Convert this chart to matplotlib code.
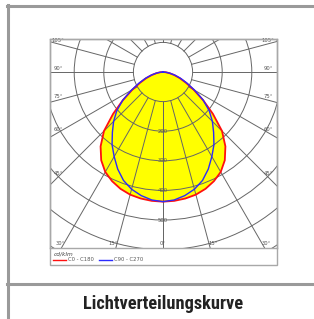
import numpy as np
import matplotlib
matplotlib.use("Agg")
import matplotlib.pyplot as plt
from matplotlib.patches import Rectangle, Circle
from matplotlib import font_manager as fm

# ---- data (cd/klm vs. gamma angle in degrees) ----
gamma = [0, 5, 10, 15, 20, 25, 30, 35, 40, 45, 50, 55, 60, 65, 70, 75, 80, 85, 90]
c0_c180 = [438, 437, 434, 429, 420, 407, 390, 364, 328, 282, 220, 165, 120, 85, 60, 39, 22, 9, 0]
c90_c270 = [438, 434, 424, 410, 390, 362, 330, 300, 266, 236, 204, 166, 124, 90, 64, 42, 24, 10, 0]
ring_values = [100, 200, 300, 400, 500, 600, 700]
ring_labels = ["200", "300", "400", "500"]
angle_side = [45, 60, 75, 90, 105]
angle_bottom = [0, 15, 30]
series_names = ["C0 - C180", "C90 - C270"]
unit_label = "cd/klm"
title = "Lichtverteilungskurve"

W, H = 314, 319
fig = plt.figure(figsize=(W / 100, H / 100), dpi=100)
fig.patch.set_facecolor("white")


def fx(x):
    return x / W


def fy(y):
    return 1 - y / H


# outer frame
frame_col = "#9a9a9a"
fig.add_artist(plt.Line2D([fx(8), fx(8)], [fy(5), fy(319)], color=frame_col, lw=2.2))
fig.add_artist(plt.Line2D([fx(7), fx(314)], [fy(6), fy(6)], color=frame_col, lw=2.2))
fig.add_artist(plt.Line2D([fx(7), fx(314)], [fy(284), fy(284)], color=frame_col, lw=2.2))

# chart box
bx0, bx1, by0, by1, bleg = 50, 277, 39, 265, 248
fig.add_artist(Rectangle((fx(bx0), fy(by1)), fx(bx1) - fx(bx0), fy(by0) - fy(by1),
                         fill=False, edgecolor="#a8a8a8", lw=1.0))

# polar diagram axes (cartesian with matching scale)
ox, oy = 163, 72
scale = 0.296  # px per cd/klm
ax = fig.add_axes([fx(bx0), fy(bleg), fx(bx1) - fx(bx0), fy(by0) - fy(bleg)])
ax.set_xlim(-(ox - bx0) / scale, (bx1 - ox) / scale)
ax.set_ylim(-(bleg - oy) / scale, (oy - by0) / scale)
ax.set_xticks([])
ax.set_yticks([])
for s in ax.spines.values():
    s.set_color("#a8a8a8")
    s.set_linewidth(1.0)


def to_xy(g, r, side=1):
    g = np.radians(np.asarray(g, float))
    r = np.asarray(r, float)
    return side * r * np.sin(g), -r * np.cos(g)


def full_curve(vals):
    xr, yr = to_xy(gamma, vals, 1)
    xl, yl = to_xy(gamma, vals, -1)
    x = np.concatenate([xl[::-1], xr[1:]])
    y = np.concatenate([yl[::-1], yr[1:]])
    return x, y


xr_, yr_ = full_curve(c0_c180)
xb_, yb_ = full_curve(c90_c270)
ax.fill(xr_, yr_, color="#ffff00", zorder=1, lw=0)
ax.fill(xb_, yb_, color="#ffff00", zorder=1, lw=0)

grid_col = "#666666"
for r in ring_values:
    ax.add_patch(Circle((0, 0), r, fill=False, edgecolor=grid_col, lw=0.7, zorder=2))
for a in range(0, 181, 15):
    for side in (1, -1):
        x, y = to_xy([a, a], [100, 900], side)
        ax.plot(x, y, color=grid_col, lw=0.7, zorder=2)

ax.plot(xr_, yr_, color="#ff1010", lw=1.3, zorder=4)
ax.plot(xb_, yb_, color="#2a2aff", lw=1.0, zorder=5)

# ring labels
for lab in ring_labels:
    ax.text(0, -float(lab), lab, fontsize=3.8, color="#555555", ha="center", va="center", zorder=6)

# angle labels
inset_x = 8 / scale
for a in angle_side:
    g = np.radians(a)
    xx = (ox - bx0) / scale - inset_x
    yy = -xx * np.cos(g) / np.sin(g)
    for side in (1, -1):
        ax.text(side * xx, yy + 12, f"{a}°", fontsize=3.8, color="#555555",
                ha="center", va="center", zorder=6)
yb = (bleg - oy) / scale - 5 / scale
for a in angle_bottom:
    g = np.radians(a)
    xx = yb * np.tan(g)
    for side in ((1, -1) if a else (1,)):
        off = 15 if a else 0
        ax.text(side * (xx + off), -yb, f"{a}°", fontsize=3.8, color="#555555",
                ha="center", va="center", zorder=6)

# legend area
fig.text(fx(54), fy(254), unit_label, fontsize=4.2, color="#444444", ha="left", va="center",
         style="italic")
fig.add_artist(plt.Line2D([fx(53), fx(66)], [fy(259.5), fy(259.5)], color="#ff1010", lw=1.0))
fig.text(fx(68), fy(259.5), series_names[0], fontsize=3.8, color="#555555", ha="left", va="center")
fig.add_artist(plt.Line2D([fx(99), fx(112)], [fy(259.5), fy(259.5)], color="#2a2aff", lw=1.0))
fig.text(fx(114), fy(259.5), series_names[1], fontsize=3.8, color="#555555", ha="left", va="center")


# title: prefer a narrow / condensed font that has a bold face
def is_bold(f):
    w = f.weight
    if isinstance(w, str):
        return w.lower() in ("bold", "heavy", "black", "extra bold", "demibold", "semibold")
    return int(w) >= 600


def is_cond(f):
    return ("Narrow" in f.name or "Condensed" in f.name or
            str(f.stretch) in ("condensed", "semi-condensed", "extra-condensed"))


cands = [f for f in fm.fontManager.ttflist if is_cond(f) and is_bold(f)]
pref = ["Liberation Sans Narrow", "Roboto Condensed", "DejaVu Sans Condensed", "DejaVu Sans",
        "Open Sans Condensed", "Noto Sans"]
chosen = None
for p in pref:
    for f in cands:
        if f.name == p:
            chosen = f
            break
    if chosen:
        break
if chosen is None and cands:
    chosen = sorted(cands, key=lambda f: f.name)[0]

if chosen is not None:
    t = fig.text(fx(163), fy(304), title, fontsize=12, color="#222222", ha="center", va="center",
                 fontproperties=fm.FontProperties(fname=chosen.fname, size=12))
else:
    t = fig.text(fx(163), fy(304), title, fontsize=9.4, fontweight="bold", color="#222222",
                 ha="center", va="center")

# fit title to reference width (about 161 px)
fig.canvas.draw()
bb = t.get_window_extent()
if bb.width > 0:
    t.set_fontsize(t.get_fontsize() * 161.0 / bb.width)

fig.savefig("out.png", dpi=100, facecolor="white")
